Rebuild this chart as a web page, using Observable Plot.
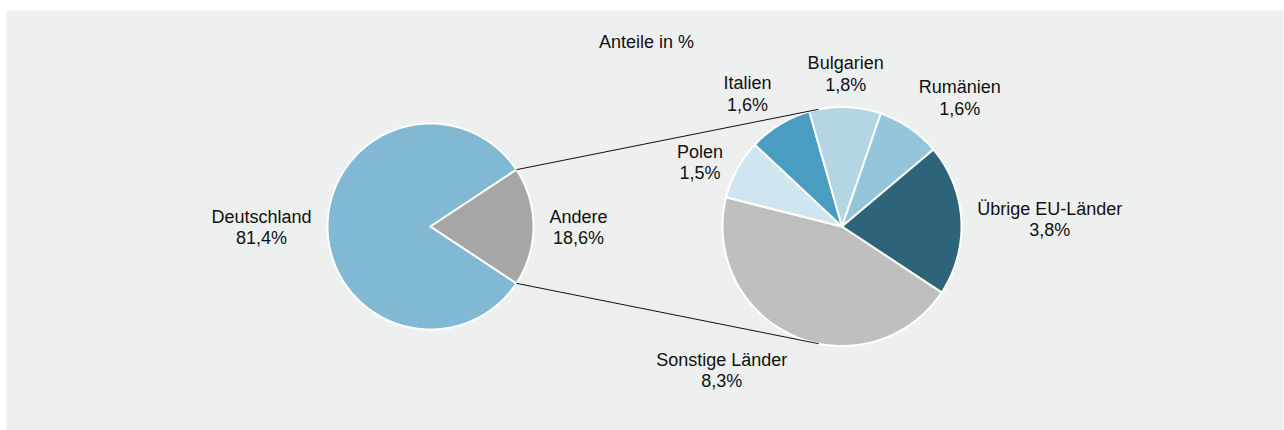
<!DOCTYPE html>
<html><head><meta charset="utf-8">
<script src="https://cdn.jsdelivr.net/npm/d3@7"></script>
<script src="https://cdn.jsdelivr.net/npm/@observablehq/plot@0.6"></script>
<style>body{margin:0;background:#fff;} #chart svg{display:block;}</style>
</head><body><div id="chart"></div>
<script>
// ---- data ----
const title = "Anteile in %";
const mainCategories = ["Deutschland", "Andere"];
const mainValues = [81.4, 18.6];
const mainColors = ["#81b9d4", "#a6a6a6"];
const subCategories = ["Sonstige Länder", "Polen", "Italien", "Bulgarien", "Rumänien", "Übrige EU-Länder"];
const subValues = [8.3, 1.5, 1.6, 1.8, 1.6, 3.8];
const subColors = ["#bfbfbf", "#cfe5ef", "#4a9cc0", "#b3d5e4", "#95c5db", "#2e6479"];

// ---- layout ----
const W = 1284, H = 430;
const P1 = {cx: 430, cy: 226, r: 103};
const P2 = {cx: 841.5, cy: 226, r: 119.5};
const gap = 16;
const fontSize = 18;
const font = "'Liberation Sans', Arial, sans-serif";
const fmt = v => d3.format(".1f")(v).replace(".", ",") + "%";

const ctx = document.createElement("canvas").getContext("2d");
ctx.font = `${fontSize}px ${font}`;
const blockWidth = s => d3.max(s.split("\n"), l => ctx.measureText(l).width);

const otherShare = mainValues[1] / d3.sum(mainValues);
const start = Math.PI / 2 + Math.PI * otherShare;

function arcsOf(vals, s) {
  return d3.pie().sort(null).startAngle(s).endAngle(s + 2 * Math.PI)(vals);
}
function slicePoints(cats, vals, P, s) {
  const pts = [];
  arcsOf(vals, s).forEach((a, i) => {
    pts.push({name: cats[i], x: P.cx, y: P.cy});
    const n = Math.max(2, Math.ceil((a.endAngle - a.startAngle) / (Math.PI / 180)));
    for (let k = 0; k <= n; k++) {
      const t = a.startAngle + (a.endAngle - a.startAngle) * k / n;
      pts.push({name: cats[i], x: P.cx + P.r * Math.sin(t), y: P.cy - P.r * Math.cos(t)});
    }
    pts.push({name: cats[i], x: P.cx, y: P.cy});
  });
  return pts;
}
function labelsOf(cats, vals, P, s) {
  return arcsOf(vals, s).map((a, i) => {
    const m = (a.startAngle + a.endAngle) / 2;
    const dx = Math.sin(m), dy = -Math.cos(m);
    const text = cats[i] + "\n" + fmt(vals[i]);
    const w = blockWidth(text);
    const hx = dx > 0.3 ? 1 : dx < -0.3 ? -1 : 0;
    return {
      text,
      x: P.cx + (P.r + gap) * dx + hx * w / 2,
      y: P.cy + (P.r + gap) * dy,
      la: dy < -0.5 ? "bottom" : dy > 0.5 ? "top" : "middle"
    };
  });
}

const slices = [
  ...slicePoints(mainCategories, mainValues, P1, start),
  ...slicePoints(subCategories, subValues, P2, start)
];
const labels = [
  ...labelsOf(mainCategories, mainValues, P1, start),
  ...labelsOf(subCategories, subValues, P2, start)
];

// connector lines: from edges of "Andere" slice, tangent to second pie
const andere = arcsOf(mainValues, start)[1];
function tangent(ang, side) {
  const px = P1.cx + P1.r * Math.sin(ang), py = P1.cy - P1.r * Math.cos(ang);
  const vx = px - P2.cx, vy = py - P2.cy;
  const d = Math.hypot(vx, vy);
  const base = Math.atan2(vy, vx);
  const off = Math.acos(P2.r / d);
  const t = base + side * off;
  return {x1: px, y1: py, x2: P2.cx + P2.r * Math.cos(t), y2: P2.cy + P2.r * Math.sin(t)};
}
const connectors = [tangent(andere.startAngle, 1), tangent(andere.endAngle, -1)];

const textMarks = [];
for (const la of ["top", "middle", "bottom"]) {
  const sub = labels.filter(d => d.la === la);
  if (sub.length) textMarks.push(Plot.text(sub, {x: "x", y: "y", text: "text", textAnchor: "middle", lineAnchor: la,
    fontSize, lineHeight: 1.2, fill: "#111", fontFamily: font}));
}

const plot = Plot.plot({
  width: W, height: H,
  marginLeft: 6, marginTop: 10, marginRight: 1, marginBottom: 0,
  x: {domain: [6, W - 1], range: [6, W - 1], axis: null},
  y: {domain: [10, H], range: [10, H], axis: null},
  color: {domain: [...mainCategories, ...subCategories], range: [...mainColors, ...subColors]},
  style: {background: "white", fontFamily: font},
  marks: [
    Plot.frame({fill: "#eef0ef", stroke: "none"}),
    Plot.line(slices, {x: "x", y: "y", z: "name", fill: "name", stroke: "white", strokeWidth: 2, strokeLinejoin: "round"}),
    Plot.link(connectors, {x1: "x1", y1: "y1", x2: "x2", y2: "y2", stroke: "#111", strokeWidth: 1}),
    Plot.text([title], {x: () => 646, y: () => 42, text: d => d, fontSize, fill: "#111", fontFamily: font}),
    ...textMarks
  ]
});
document.getElementById("chart").appendChild(plot);
</script>
</body></html>
